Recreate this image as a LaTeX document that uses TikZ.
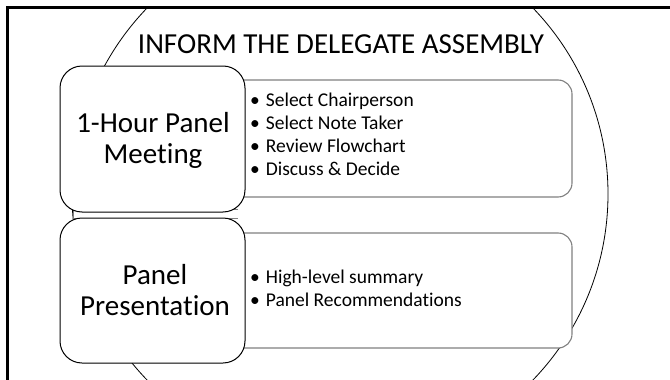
\documentclass[tikz,border=0pt]{standalone}
\usepackage{fontspec}
\setmainfont{Carlito}[Ligatures=NoCommon]
\begin{document}
\begin{tikzpicture}[x=1pt,y=-1pt,
  lbox/.style={draw=black, line width=1pt, fill=white, rounded corners=22pt, inner sep=0pt},
  rbox/.style={draw=black!50, line width=1.1pt, fill=white, rounded corners=14pt, inner sep=0pt},
  bigtxt/.style={font=\fontsize{29}{35}\selectfont, inner sep=0pt, anchor=base},
  bul/.style={font=\fontsize{19.5}{23}\selectfont, inner sep=0pt, anchor=base west}]
\useasboundingbox (0,0) rectangle (670,380);
% frame
\coordinate (fbl) at (7.5,380);
\coordinate (ftl) at (7.5,7.5);
\coordinate (ftr) at (670,7.5);
\draw[line width=3pt] (fbl) -- (ftl) -- (ftr);
% big circle
\begin{scope}
\clip (9,9) rectangle (670,380);
\coordinate (cc) at (340,194);
\draw[line width=0.8pt] (cc) circle[radius=268pt];
\end{scope}
% title
\node[bigtxt] (title) at (341,53) {INFORM THE DELEGATE ASSEMBLY};
% right boxes
\node[rbox, minimum width=372pt, minimum height=117pt] (rb1) at (386,138.5) {};
\node[rbox, minimum width=372pt, minimum height=115pt] (rb2) at (386,290.5) {};
% connector strip between left boxes (open on the right, hidden under the boxes)
\coordinate (s1) at (238,209.5);
\coordinate (s2) at (73,209.5);
\coordinate (s3) at (73,218.5);
\coordinate (s4) at (238,218.5);
\draw[draw=black!50, line width=1pt] (s1) -- (s2) -- (s3) -- (s4);
% left boxes
\node[lbox, minimum width=185pt, minimum height=146pt] (lb1) at (152.5,139) {};
\node[lbox, minimum width=185pt, minimum height=145pt] (lb2) at (152.5,290.5) {};
% left texts
\node[bigtxt] (t1a) at (153,132) {1-Hour Panel};
\node[bigtxt] (t1b) at (153,163) {Meeting};
\node[bigtxt] (t2a) at (155,284) {Panel};
\node[bigtxt] (t2b) at (155,315) {Presentation};
% bullets
\node[bul] (b1) at (250,106) {•\hspace{6pt}Select Chairperson};
\node[bul] (b2) at (250,129) {•\hspace{6pt}Select Note Taker};
\node[bul] (b3) at (250,152) {•\hspace{6pt}Review Flowchart};
\node[bul] (b4) at (250,175) {•\hspace{6pt}Discuss \& Decide};
\node[bul] (b5) at (250,283) {•\hspace{6pt}High-level summary};
\node[bul] (b6) at (250,306) {•\hspace{6pt}Panel Recommendations};
\end{tikzpicture}
\end{document}
